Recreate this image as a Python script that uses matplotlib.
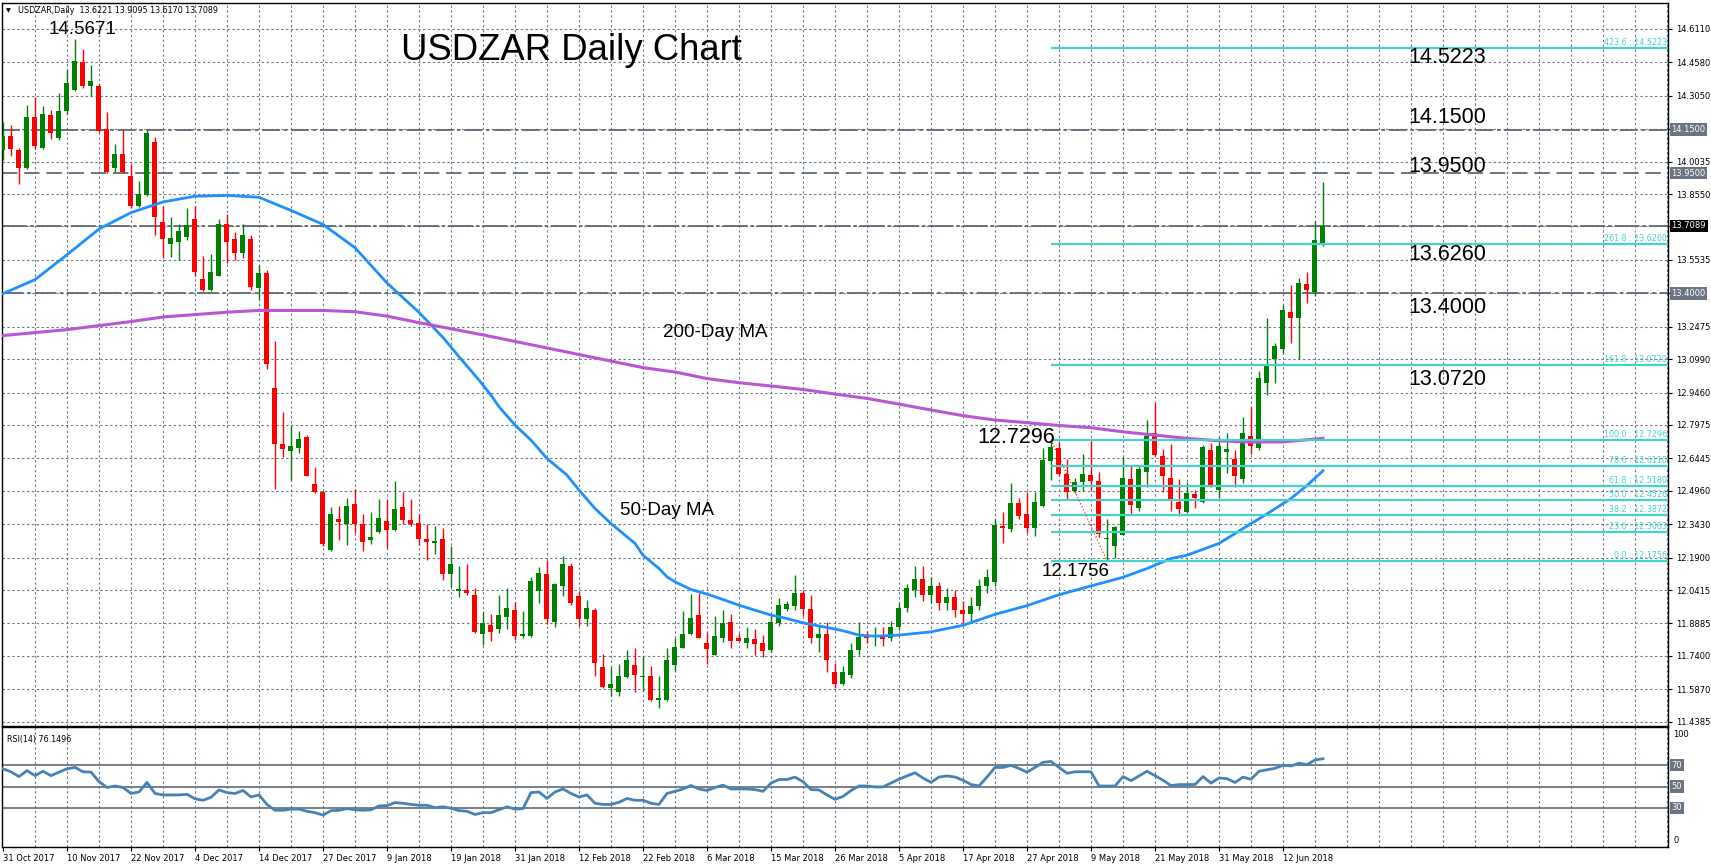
import numpy as np
import matplotlib
matplotlib.use('Agg')
from matplotlib import pyplot as plt

plt.rcParams['font.family'] = ['DejaVu Sans']

# ---- daily bars (31 Oct 2017 .. 19 Jun 2018) ----
opens = [14.059, 14.123, 14.059, 13.973, 14.209, 14.065, 14.219, 14.112, 14.236, 14.333,
         14.461, 14.352, 14.352, 14.151, 13.973, 14.037, 13.937, 13.802, 13.849, 14.095,
         13.727, 13.628, 13.635, 13.660, 13.742, 13.468, 13.414, 13.481, 13.716, 13.650,
         13.583, 13.650, 13.427, 13.493, 12.965, 12.710, 12.678, 12.693, 12.742, 12.528,
         12.491, 12.226, 12.369, 12.346, 12.436, 12.342, 12.271, 12.309, 12.357, 12.318,
         12.421, 12.363, 12.350, 12.277, 12.256, 12.275, 12.117, 12.038, 12.041, 12.018,
         11.838, 11.881, 11.861, 11.919, 11.949, 11.832, 11.830, 12.038, 12.114, 11.896,
         12.061, 12.151, 12.014, 11.908, 11.952, 11.687, 11.594, 11.575, 11.644, 11.697,
         11.641, 11.647, 11.540, 11.540, 11.697, 11.777, 11.840, 11.927, 11.797, 11.743,
         11.823, 11.893, 11.824, 11.800, 11.815, 11.797, 11.766, 11.891, 11.954, 11.969,
         12.026, 11.954, 11.823, 11.838, 11.664, 11.609, 11.652, 11.769, 11.832, 11.827,
         11.827, 11.820, 11.870, 11.960, 12.040, 12.090, 12.020, 12.060, 11.980, 12.010,
         11.950, 11.930, 11.970, 12.060, 12.080, 12.335, 12.321, 12.438, 12.388, 12.324,
         12.426, 12.634, 12.693, 12.573, 12.496, 12.537, 12.568, 12.540, 12.273, 12.243,
         12.293, 12.548, 12.418, 12.583, 12.759, 12.656, 12.553, 12.446, 12.397, 12.480,
         12.446, 12.683, 12.499, 12.675, 12.640, 12.550, 12.748, 12.693, 12.991, 13.099,
         13.145, 13.313, 13.289, 13.443, 13.405, 13.6221]
highs = [14.183, 14.170, 14.067, 14.262, 14.298, 14.256, 14.241, 14.316, 14.423, 14.5671,
         14.519, 14.444, 14.358, 14.230, 14.084, 14.149, 13.994, 13.915, 14.155, 14.116,
         13.802, 13.748, 13.720, 13.791, 13.802, 13.570, 13.581, 13.742, 13.763, 13.680,
         13.716, 13.667, 13.528, 13.508, 13.181, 12.855, 12.791, 12.770, 12.753, 12.607,
         12.496, 12.421, 12.427, 12.464, 12.506, 12.389, 12.399, 12.457, 12.453, 12.539,
         12.491, 12.457, 12.389, 12.346, 12.335, 12.324, 12.243, 12.151, 12.160, 12.049,
         11.939, 11.934, 12.018, 12.053, 11.988, 11.946, 12.102, 12.145, 12.178, 12.075,
         12.197, 12.166, 12.036, 11.995, 11.957, 11.748, 11.687, 11.702, 11.769, 11.777,
         11.739, 11.694, 11.647, 11.774, 11.820, 11.946, 12.023, 12.026, 11.850, 11.922,
         11.949, 11.930, 11.843, 11.870, 11.865, 11.835, 11.934, 12.003, 11.991, 12.110,
         12.041, 12.021, 11.881, 11.896, 11.708, 11.693, 11.797, 11.893, 11.855, 11.873,
         11.870, 11.900, 11.980, 12.070, 12.150, 12.150, 12.100, 12.080, 12.050, 12.040,
         11.990, 12.010, 12.090, 12.140, 12.365, 12.400, 12.533, 12.461, 12.492, 12.492,
         12.690, 12.7296, 12.720, 12.640, 12.553, 12.664, 12.725, 12.583, 12.369, 12.334,
         12.649, 12.614, 12.614, 12.820, 12.896, 12.686, 12.710, 12.550, 12.537, 12.499,
         12.705, 12.716, 12.744, 12.759, 12.683, 12.835, 12.881, 13.046, 13.286, 13.174,
         13.347, 13.438, 13.472, 13.496, 13.733, 13.9095]
lows = [14.012, 14.027, 13.902, 13.969, 14.063, 14.063, 14.106, 14.101, 14.223, 14.326,
        14.341, 14.305, 14.140, 13.952, 13.956, 13.952, 13.791, 13.797, 13.845, 13.669,
        13.560, 13.568, 13.551, 13.645, 13.481, 13.410, 13.410, 13.478, 13.540, 13.555,
        13.562, 13.416, 13.373, 13.052, 12.506, 12.650, 12.545, 12.667, 12.564, 12.485,
        12.243, 12.222, 12.271, 12.249, 12.303, 12.222, 12.254, 12.303, 12.234, 12.314,
        12.346, 12.335, 12.249, 12.181, 12.207, 12.089, 12.056, 12.011, 12.020, 11.847,
        11.789, 11.809, 11.847, 11.865, 11.812, 11.824, 11.827, 11.983, 11.888, 11.873,
        12.015, 11.972, 11.876, 11.876, 11.649, 11.591, 11.557, 11.557, 11.640, 11.575,
        11.580, 11.534, 11.502, 11.534, 11.671, 11.774, 11.835, 11.820, 11.705, 11.742,
        11.804, 11.777, 11.806, 11.777, 11.743, 11.733, 11.759, 11.876, 11.946, 11.952,
        11.922, 11.800, 11.759, 11.667, 11.595, 11.606, 11.639, 11.746, 11.801, 11.784,
        11.786, 11.810, 11.860, 11.940, 12.010, 11.990, 11.980, 11.950, 11.950, 11.920,
        11.890, 11.900, 11.950, 12.030, 12.060, 12.255, 12.305, 12.369, 12.301, 12.289,
        12.423, 12.545, 12.568, 12.453, 12.484, 12.496, 12.499, 12.285, 12.1756, 12.186,
        12.293, 12.388, 12.404, 12.514, 12.656, 12.490, 12.404, 12.382, 12.395, 12.415,
        12.441, 12.512, 12.461, 12.579, 12.514, 12.530, 12.664, 12.683, 12.934, 12.991,
        13.128, 13.171, 13.098, 13.357, 13.388, 13.6170]
closes = [14.123, 14.063, 13.973, 14.209, 14.076, 14.223, 14.134, 14.236, 14.365, 14.465,
          14.352, 14.371, 14.144, 13.956, 14.037, 13.956, 13.802, 13.855, 14.134, 13.748,
          13.648, 13.652, 13.686, 13.712, 13.496, 13.414, 13.498, 13.720, 13.637, 13.583,
          13.667, 13.431, 13.493, 13.078, 12.710, 12.686, 12.703, 12.731, 12.566, 12.489,
          12.254, 12.389, 12.354, 12.427, 12.342, 12.260, 12.286, 12.372, 12.318, 12.414,
          12.361, 12.346, 12.277, 12.260, 12.264, 12.115, 12.163, 12.044, 12.026, 11.850,
          11.891, 11.850, 11.927, 11.957, 11.832, 11.840, 12.082, 12.120, 11.908, 12.069,
          12.159, 11.983, 11.908, 11.957, 11.708, 11.598, 11.613, 11.647, 11.720, 11.652,
          11.649, 11.537, 11.549, 11.720, 11.781, 11.840, 11.914, 11.823, 11.771, 11.830,
          11.891, 11.809, 11.809, 11.820, 11.794, 11.763, 11.893, 11.971, 11.977, 12.026,
          11.954, 11.823, 11.838, 11.723, 11.613, 11.664, 11.769, 11.827, 11.823, 11.830,
          11.818, 11.870, 11.960, 12.050, 12.090, 12.020, 12.060, 11.980, 12.010, 11.950,
          11.930, 11.970, 12.060, 12.100, 12.339, 12.327, 12.441, 12.380, 12.324, 12.443,
          12.637, 12.695, 12.571, 12.492, 12.537, 12.571, 12.540, 12.296, 12.282, 12.328,
          12.553, 12.431, 12.594, 12.747, 12.660, 12.562, 12.450, 12.412, 12.484, 12.461,
          12.698, 12.514, 12.701, 12.687, 12.565, 12.759, 12.702, 13.011, 13.072, 13.160,
          13.324, 13.289, 13.446, 13.415, 13.644, 13.7089]

# moving averages, sampled along the drawn curves (bar index, value)
ma50_idx = [0, 4, 8, 12, 16, 20, 24, 28, 32, 36, 40, 44, 48, 52, 55, 57, 59.5, 61, 62, 64,
            66, 68, 70.5, 72, 74, 76, 79, 80, 82, 83, 84, 86, 88, 90, 92, 94, 96, 98, 100,
            103, 105, 107, 109, 112, 116, 120, 124, 128, 132, 136, 140, 143, 146, 148,
            152, 155, 158, 161, 163, 165]
ma50_val = [13.399, 13.463, 13.577, 13.695, 13.770, 13.819, 13.845, 13.849, 13.840, 13.780,
            13.716, 13.609, 13.448, 13.313, 13.198, 13.110, 13.003, 12.934, 12.881, 12.797,
            12.728, 12.644, 12.568, 12.499, 12.415, 12.346, 12.255, 12.201, 12.140, 12.102,
            12.079, 12.044, 12.023, 11.998, 11.972, 11.949, 11.927, 11.911, 11.891,
            11.870, 11.855, 11.835, 11.830, 11.835, 11.850, 11.880, 11.930, 11.970, 12.020,
            12.060, 12.100, 12.140, 12.186, 12.201, 12.255, 12.323, 12.390, 12.461, 12.520,
            12.588]
ma200_idx = [0, 8, 16, 20, 28, 32, 40, 44, 48, 52, 55, 60, 64, 68, 72, 76, 80, 84, 88, 92,
             96, 100, 104, 108, 112, 116, 120, 124, 128, 132, 136, 140, 144, 148, 152, 156,
             160, 165]
ma200_val = [13.207, 13.234, 13.271, 13.292, 13.314, 13.322, 13.322, 13.316, 13.296, 13.266,
             13.245, 13.210, 13.180, 13.150, 13.120, 13.090, 13.060, 13.040, 13.010, 12.991,
             12.976, 12.960, 12.939, 12.919, 12.893, 12.866, 12.840, 12.820, 12.808, 12.795,
             12.785, 12.766, 12.751, 12.736, 12.725, 12.719, 12.720, 12.736]

rsi_vals = [66.7, 63.9, 59.4, 65.0, 60.3, 64.4, 60.3, 63.6, 66.7, 68.0,
            63.9, 63.6, 54.7, 49.2, 50.6, 49.2, 43.6, 45.0, 53.9, 43.6,
            42.2, 42.2, 42.2, 42.8, 38.6, 37.2, 40.0, 46.9, 44.4, 43.6,
            46.4, 40.3, 42.2, 33.3, 27.8, 27.8, 28.9, 28.9, 26.9, 25.6,
            23.3, 27.5, 27.8, 29.4, 28.3, 27.8, 28.3, 31.9, 32.2, 35.0,
            34.4, 33.3, 32.5, 32.5, 30.3, 31.1, 29.7, 27.5, 26.9, 23.9,
            25.6, 25.6, 28.3, 31.1, 28.9, 29.4, 44.4, 45.0, 38.9, 45.0,
            47.8, 43.6, 40.3, 42.2, 34.4, 33.3, 33.3, 35.3, 38.9, 37.2,
            37.2, 34.4, 33.3, 43.6, 45.6, 47.8, 51.1, 47.8, 46.4, 49.2,
            51.4, 47.8, 47.8, 47.8, 47.2, 45.6, 53.3, 56.7, 56.7, 58.9,
            54.7, 47.2, 46.9, 42.2, 38.1, 40.8, 46.4, 50.6, 50.6, 49.7,
            49.7, 53.3, 57.0, 60.0, 63.0, 58.0, 54.0, 59.0, 60.0, 59.0,
            56.0, 52.0, 50.6, 59.0, 68.0, 68.0, 70.0, 67.0, 63.6, 68.0,
            72.8, 73.6, 68.0, 62.5, 63.9, 64.0, 63.9, 50.6, 50.6, 50.6,
            59.4, 55.6, 60.0, 64.4, 60.3, 56.0, 51.0, 51.9, 51.9, 52.0,
            59.4, 53.3, 58.1, 57.5, 53.9, 58.9, 56.9, 64.4, 65.8, 67.2,
            70.0, 69.4, 71.9, 70.6, 75.0, 76.15]

date_labels = ['31 Oct 2017', '10 Nov 2017', '22 Nov 2017', '4 Dec 2017', '14 Dec 2017',
               '27 Dec 2017', '9 Jan 2018', '19 Jan 2018', '31 Jan 2018', '12 Feb 2018',
               '22 Feb 2018', '6 Mar 2018', '15 Mar 2018', '26 Mar 2018', '5 Apr 2018',
               '17 Apr 2018', '27 Apr 2018', '9 May 2018', '21 May 2018', '31 May 2018',
               '12 Jun 2018']

price_ticks = [14.6110, 14.4580, 14.3050, 14.1520, 14.0035, 13.8550, 13.7065, 13.5535,
               13.4005, 13.2475, 13.0990, 12.9460, 12.7975, 12.6445, 12.4960, 12.3430,
               12.1900, 12.0415, 11.8885, 11.7400, 11.5870, 11.4385]
hidden_ticks = [14.1520, 13.7065, 13.4005]

fib_ratios = ['423.6', '261.8', '161.8', '100.0', '78.6', '61.8', '50.0', '38.2', '23.6', '0.0']
fib_levels = [14.5223, 13.6260, 13.0720, 12.7296, 12.6110, 12.5180, 12.4526, 12.3872,
              12.3063, 12.1756]
fib_start = 131
swing_idx = [131, 138]
swing_val = [12.7296, 12.1756]

level_lines = [14.15, 13.95, 13.40]
last_price = 13.7089
big_labels = ['14.5223', '14.1500', '13.9500', '13.6260', '13.4000', '13.0720']

# ---- figure ----
W, H = 1711, 868
fig = plt.figure(figsize=(W / 100, H / 100), dpi=100)


def fx(px):
    return px / W


def fy(py):
    return 1 - py / H


def at(px, py):
    # pixel position in the price pane -> data coords (for text placement)
    return (px - 3) / 8, 14.611 - (py - 29) / 218.3


ax = fig.add_axes([fx(2), fy(726), fx(1668) - fx(2), fy(3) - fy(726)])
rax = fig.add_axes([fx(2), fy(847), fx(1668) - fx(2), fy(727) - fy(847)])

xmax = (1668 - 3) / 8
for a in (ax, rax):
    a.set_xlim(-0.125, xmax)
    for s in a.spines.values():
        s.set_color('black')
        s.set_linewidth(1)
ax.set_ylim(11.4188, 14.730)
rax.set_ylim(-6.6, 105.9)

grid_kw = dict(color='#6f7c8a', lw=0.8, ls=(0, (2.2, 2.2)), zorder=1)
for k in range(1, 53):
    ax.axvline(4 * k, **grid_kw)
    rax.axvline(4 * k, **grid_kw)
for p in price_ticks:
    ax.axhline(p, **grid_kw)

# price axis on the right
ax.set_xticks([])
ax.yaxis.tick_right()
ax.set_yticks(price_ticks)
ax.set_yticklabels(['' if p in hidden_ticks else f'{p:.4f}' for p in price_ticks])
ax.tick_params(axis='y', length=3, width=0.8, pad=3, labelsize=6, colors='black')

# horizontal levels
gray = '#5e6a76'
ax.axhline(14.15, color=gray, lw=1.3, ls=(0, (10, 2, 2, 2)), zorder=2)
ax.axhline(13.95, color=gray, lw=1.3, ls=(0, (8.5, 3.8)), zorder=2)
ax.axhline(13.40, color=gray, lw=1.3, ls=(0, (12, 2, 2, 2)), zorder=2)
ax.axhline(last_price, color=gray, lw=1.3, ls=(0, (14, 1.5, 2, 1.5)), zorder=2)

ytr = ax.get_yaxis_transform()
for v in level_lines:
    ax.text(1.0021, v, f'{v:.4f}', transform=ytr, ha='left', va='center', fontsize=6,
            color='white', bbox=dict(boxstyle='square,pad=0.2', fc='#6b7581', ec='none'))
ax.text(1.0021, last_price, f'{last_price:.4f}', transform=ytr, ha='left', va='center',
        fontsize=6, color='white', bbox=dict(boxstyle='square,pad=0.2', fc='black', ec='none'))

# candles
idx = np.arange(len(opens))
o, h, l, c = (np.array(v) for v in (opens, highs, lows, closes))
col = np.where(c >= o, '#008000', '#ff0000')
ax.vlines(idx, l, h, colors=col, lw=1, zorder=3)
ax.bar(idx, np.maximum(np.abs(c - o), 0.005), bottom=np.minimum(o, c), width=0.625,
       color=col, lw=0, zorder=3)

# moving averages
ax.plot(ma50_idx, ma50_val, color='#1e90ff', lw=2, zorder=4)
ax.plot(ma200_idx, ma200_val, color='#ba55d3', lw=2.2, zorder=4)

# fibonacci levels
cyan = '#48d1cc'
for r, v in zip(fib_ratios, fib_levels):
    ax.hlines(v, fib_start, xmax, color=cyan, lw=1.6, zorder=5)
    ax.text(0.9995, v + 0.004, f'{r} : {v:.4f}', transform=ytr, ha='right', va='bottom',
            fontsize=5.8, color=cyan, zorder=6)
ax.plot(swing_idx, swing_val, color='red', lw=0.8, ls=(0, (1, 2)), zorder=5)

# annotations
big = dict(family='Liberation Sans', color='black', va='center', ha='left', zorder=7)
ax.text(*at(49, 30), '14.5671', fontsize=13.5, **big)
ax.text(*at(401, 51), 'USDZAR Daily Chart', fontsize=26.3, **big)
for txt, py in zip(big_labels, [58, 117, 166, 254, 307, 379]):
    ax.text(*at(1408, py), txt, fontsize=15.5, **big)
ax.text(*at(977, 437), '12.7296', fontsize=15.5, **big)
ax.text(*at(1042, 571), '12.1756', fontsize=13.5, **big)
ax.text(*at(663, 332), '200-Day MA', fontsize=13.5, **big)
ax.text(*at(620, 510), '50-Day MA', fontsize=13.5, **big)

fig.text(fx(6), fy(10.5), '\u25bc', fontsize=4.5, va='center', ha='left')
fig.text(fx(18), fy(10.5), 'USDZAR,Daily  13.6221 13.9095 13.6170 13.7089', fontsize=5.8,
         va='center', ha='left')

# RSI pane
rax.plot(idx, rsi_vals, color='#4682b4', lw=2, zorder=4)
for lv in (70, 50, 30):
    rax.axhline(lv, color='#6b7581', lw=1.3, zorder=2)
rax.yaxis.tick_right()
rax.set_yticks([0, 100])
rax.set_yticklabels(['0', '100'])
rax.tick_params(axis='y', length=0, pad=4, labelsize=6)
rtr = rax.get_yaxis_transform()
for lv in (70, 50, 30):
    rax.text(1.0021, lv, str(lv), transform=rtr, ha='left', va='center', fontsize=6,
             color='white', bbox=dict(boxstyle='square,pad=0.2', fc='#6b7581', ec='none'))
rax.text(0.003, 0.93, 'RSI(14) 76.1496', transform=rax.transAxes, fontsize=5.8,
         va='top', ha='left')
rax.set_xticks(np.arange(len(date_labels)) * 8)
rax.set_xticklabels(date_labels, ha='left')
rax.tick_params(axis='x', length=3, width=0.8, pad=2, labelsize=6)

fig.savefig('out.png', dpi=100, facecolor='white')
